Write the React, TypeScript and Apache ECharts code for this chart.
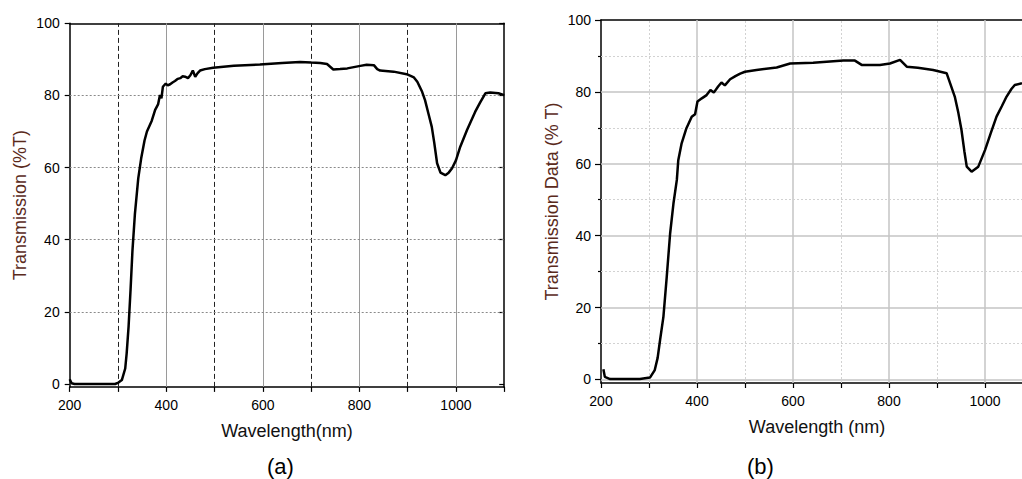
import React, { useEffect, useRef } from "react";
import * as echarts from "echarts";

// ---- Data: panel (a) ----
const wlA = [200, 204, 210, 250, 294, 301, 308, 315, 318, 322, 326, 330, 335, 342, 348, 355, 360, 370, 377, 383, 387, 390, 393, 399, 403, 408, 413, 418, 424, 429, 434, 439, 445, 450, 455, 460, 465, 470, 480, 497, 540, 594, 640, 677, 700, 719, 733, 746, 760, 775, 802, 815, 830, 837, 843, 871, 898, 913, 920, 930, 936, 943, 950, 955, 961, 968, 978, 985, 992, 1000, 1009, 1023, 1040, 1050, 1061, 1071, 1088, 1100];
const tA = [1.3, 0.2, 0, 0, 0, 0.4, 1.1, 4.3, 8.5, 16, 26, 37, 47, 57, 62.5, 67.5, 70, 73, 76, 77.5, 80.1, 79.2, 82.4, 83.3, 82.8, 83.1, 83.6, 84, 84.6, 84.8, 85.3, 85.2, 84.8, 85.6, 86.9, 85.2, 86.2, 86.9, 87.3, 87.7, 88.2, 88.6, 89, 89.3, 89.1, 89, 88.7, 87.2, 87.3, 87.5, 88.2, 88.5, 88.4, 87.3, 86.9, 86.6, 85.9, 85, 83.8, 81, 78.7, 75, 71.3, 67, 61.2, 58.6, 57.9, 58.6, 59.8, 62, 65.8, 70.4, 75.5, 78, 80.6, 80.8, 80.6, 80.1];

// ---- Data: panel (b) ----
const wlB = [205, 208, 219, 250, 281, 302, 312, 318, 323, 330, 337, 344, 351, 358, 361, 368, 378, 389, 396, 401, 410, 420, 428, 435, 444, 451, 458, 469, 480, 490, 500, 524, 566, 594, 642, 684, 705, 729, 743, 760, 781, 802, 823, 837, 860, 892, 920, 937, 944, 951, 957, 962, 972, 986, 1000, 1012, 1024, 1035, 1045, 1055, 1062, 1077];
const tB = [2.8, 0.7, 0.1, 0.1, 0.1, 0.5, 2.6, 6, 10.9, 17.4, 28.6, 40.6, 49, 55.5, 61, 65.7, 69.9, 73.1, 73.8, 77.3, 78.2, 79.1, 80.5, 79.8, 81.5, 82.6, 81.8, 83.5, 84.4, 85.1, 85.6, 86.1, 86.8, 87.9, 88.1, 88.5, 88.7, 88.7, 87.5, 87.5, 87.5, 87.9, 88.9, 87, 86.7, 86.1, 85.2, 78.7, 74.5, 69.4, 63.5, 59.2, 57.8, 59.2, 63.8, 68.5, 73.1, 76, 78.7, 80.8, 81.9, 82.4];

// ---- Axis ticks / grid positions ----
const yTicks = [0, 20, 40, 60, 80, 100];
const yMinorB = [10, 30, 50, 70, 90];
const xMajorGrid = [400, 600, 800, 1000];
const xMinorGrid = [300, 500, 700, 900];
const yGridA = [20, 40, 60, 80];
const yGridB = [0, 20, 40, 60, 80];

const FONT = "'Liberation Sans', Arial, sans-serif";
const TITLE_COLOR = "#5a2a1c";

function pairs(xs: number[], ys: number[]) {
  return xs.map((x, i) => [x, ys[i]]);
}

export default function App() {
  const ref = useRef<HTMLDivElement>(null);
  useEffect(() => {
    if (!ref.current) return;
    const chart = echarts.init(ref.current, null, { renderer: "svg" });

    const xBottom = (gridIndex: number, name: string) => ({
      type: "value",
      gridIndex,
      position: "bottom",
      min: 200,
      max: 1100,
      interval: 100,
      axisLine: { show: true, onZero: false, lineStyle: { color: "#000", width: 1.5 } },
      axisTick: { show: true, inside: false, length: 5, lineStyle: { color: "#000", width: 1.2 } },
      axisLabel: {
        show: true,
        margin: 11,
        color: "#000",
        fontSize: 14,
        fontFamily: FONT,
        formatter: (v: number) => (v % 200 === 0 ? String(v) : ""),
      },
      splitLine: { show: false },
      name,
      nameLocation: "middle",
      nameGap: 35,
      nameTextStyle: { fontSize: 18, color: "#111", fontFamily: FONT },
    });
    const xTop = (gridIndex: number) => ({
      type: "value",
      gridIndex,
      position: "top",
      min: 200,
      max: 1100,
      interval: 100,
      axisLine: { show: true, onZero: false, lineStyle: { color: "#000", width: 1.5 } },
      axisTick: { show: false },
      axisLabel: { show: false },
      splitLine: { show: false },
    });

    const gridLines = (
      vSolid: any,
      vMinor: any,
      hLines: number[],
      hStyle: any,
      hExtra?: { values: number[]; style: any }
    ) => {
      const d: any[] = [];
      xMajorGrid.forEach((v) => d.push({ xAxis: v, lineStyle: vSolid }));
      xMinorGrid.forEach((v) => d.push({ xAxis: v, lineStyle: vMinor }));
      hLines.forEach((v) => d.push({ yAxis: v, lineStyle: hStyle }));
      if (hExtra) hExtra.values.forEach((v) => d.push({ yAxis: v, lineStyle: hExtra.style }));
      return {
        silent: true,
        symbol: ["none", "none"],
        label: { show: false },
        animation: false,
        z: 1,
        data: d,
      };
    };

    const option: any = {
      animation: false,
      backgroundColor: "#fff",
      textStyle: { fontFamily: FONT },
      grid: [
        { left: 69.7, top: 23.3, width: 434.5, height: 363.6 },
        { left: 601, top: 20, width: 432, height: 363 },
      ],
      xAxis: [xBottom(0, "Wavelength(nm)"), xTop(0), xBottom(1, "Wavelength (nm)"), xTop(1)],
      yAxis: [
        {
          type: "value",
          gridIndex: 0,
          position: "left",
          min: -0.8,
          max: 100,
          axisLine: { show: true, onZero: false, lineStyle: { color: "#000", width: 1.5 } },
          axisTick: { show: true, length: 5, customValues: yTicks, lineStyle: { color: "#000", width: 1.2 } },
          axisLabel: { show: true, customValues: yTicks, margin: 10, color: "#000", fontSize: 14, fontFamily: FONT },
          splitLine: { show: false },
          name: "Transmission (%T)",
          nameLocation: "middle",
          nameGap: 41,
          nameTextStyle: { fontSize: 18, color: TITLE_COLOR, fontFamily: FONT },
        },
        {
          type: "value",
          gridIndex: 0,
          position: "right",
          min: -0.8,
          max: 100,
          axisLine: { show: true, onZero: false, lineStyle: { color: "#000", width: 1.5 } },
          axisTick: { show: true, inside: true, length: 5, customValues: yTicks, lineStyle: { color: "#000", width: 1.2 } },
          axisLabel: { show: false },
          splitLine: { show: false },
        },
        {
          type: "value",
          gridIndex: 1,
          position: "left",
          min: -1,
          max: 100,
          axisLine: { show: true, onZero: false, lineStyle: { color: "#000", width: 1.5 } },
          axisTick: { show: true, length: 6, customValues: yTicks, lineStyle: { color: "#000", width: 1.2 } },
          axisLabel: { show: true, customValues: yTicks, margin: 10, color: "#000", fontSize: 14, fontFamily: FONT },
          splitLine: { show: false },
          name: "Transmission Data (% T)",
          nameLocation: "middle",
          nameGap: 40,
          nameTextStyle: { fontSize: 18, color: TITLE_COLOR, fontFamily: FONT },
        },
        {
          type: "value",
          gridIndex: 1,
          position: "left",
          min: -1,
          max: 100,
          axisLine: { show: false, onZero: false },
          axisTick: { show: true, length: 3, customValues: yMinorB, lineStyle: { color: "#000", width: 1.2 } },
          axisLabel: { show: false },
          splitLine: { show: false },
        },
        {
          type: "value",
          gridIndex: 1,
          position: "right",
          min: -1,
          max: 100,
          axisLine: { show: true, onZero: false, lineStyle: { color: "#000", width: 1.5 } },
          axisTick: { show: false },
          axisLabel: { show: false },
          splitLine: { show: false },
        },
      ],
      series: [
        {
          type: "line",
          xAxisIndex: 0,
          yAxisIndex: 0,
          data: pairs(wlA, tA),
          showSymbol: false,
          symbol: "none",
          z: 3,
          lineStyle: { color: "#000", width: 2.5 },
          markLine: gridLines(
            { color: "#9a9a9a", width: 1, type: "solid" },
            { color: "#222", width: 1, type: [5, 3] },
            yGridA,
            { color: "#8a8a8a", width: 1, type: [2, 2] }
          ),
        },
        {
          type: "line",
          xAxisIndex: 2,
          yAxisIndex: 2,
          data: pairs(wlB, tB),
          showSymbol: false,
          symbol: "none",
          z: 3,
          lineStyle: { color: "#000", width: 2.5 },
          markLine: gridLines(
            { color: "#c4c4c4", width: 1.5, type: "solid" },
            { color: "#d2d2d2", width: 1, type: [2, 2] },
            yGridB,
            { color: "#c4c4c4", width: 1.5, type: "solid" },
            { values: yMinorB, style: { color: "#d2d2d2", width: 1, type: [2, 2] } }
          ),
        },
      ],
      graphic: [
        {
          type: "text",
          left: 267,
          top: 455,
          style: { text: "(a)", fontSize: 22, fill: "#000", fontFamily: FONT },
        },
        {
          type: "text",
          left: 747,
          top: 455,
          style: { text: "(b)", fontSize: 22, fill: "#000", fontFamily: FONT },
        },
      ],
    };

    chart.setOption(option);
    return () => chart.dispose();
  }, []);

  return (
    <div
      style={{
        position: "fixed",
        left: 0,
        top: 0,
        width: 1022,
        height: 479,
        overflow: "hidden",
        background: "#fff",
      }}
    >
      <div ref={ref} style={{ width: 1060, height: 479 }} />
    </div>
  );
}
